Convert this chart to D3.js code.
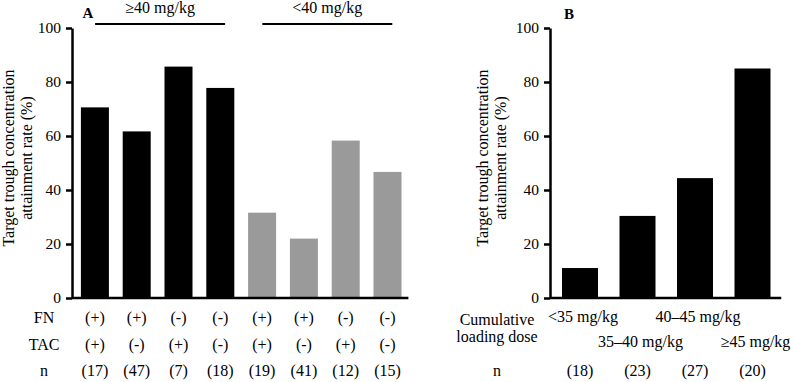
<!DOCTYPE html>
<html>
<head>
<meta charset="utf-8">
<style>
  body { margin: 0; background: #fff; }
  svg { display: block; }
  text { font-family: "Liberation Serif", "Times New Roman", serif; fill: #000; }
  .axis path, .axis line { stroke: #000; stroke-width: 2.5px; }
  .axis text { font-size: 15.5px; font-family: "Liberation Serif", serif; }
</style>
</head>
<body>
<svg width="794" height="382"></svg>
<script src="https://d3js.org/d3.v7.min.js"></script>
<script>

// panel A: attainment by FN / TAC status and loading dose group
var rateA = [70.6, 61.7, 85.7, 77.8, 31.6, 22.0, 58.3, 46.7];
var fnA   = ["(+)", "(+)", "(-)", "(-)", "(+)", "(+)", "(-)", "(-)"];
var tacA  = ["(+)", "(-)", "(+)", "(-)", "(+)", "(-)", "(+)", "(-)"];
var nA    = ["(17)", "(47)", "(7)", "(18)", "(19)", "(41)", "(12)", "(15)"];
var doseGroupA = ["≥40 mg/kg", "≥40 mg/kg", "≥40 mg/kg", "≥40 mg/kg",
                  "<40 mg/kg", "<40 mg/kg", "<40 mg/kg", "<40 mg/kg"];

// panel B: attainment by cumulative loading dose
var doseB = ["<35 mg/kg", "35–40 mg/kg", "40–45 mg/kg", "≥45 mg/kg"];
var rateB = [11.1, 30.4, 44.4, 85.0];
var nB    = ["(18)", "(23)", "(27)", "(20)"];

var yTicks = [0, 20, 40, 60, 80, 100];

var fs = "16px";

var svg = d3.select("svg");

var y = d3.scaleLinear().domain([0, 100]).range([298, 28]);

function yAxis(g, x0) {
  g.attr("class", "axis")
    .attr("transform", "translate(" + x0 + ",0)")
    .call(d3.axisLeft(y).tickValues(yTicks).tickSize(6).tickPadding(5).tickSizeOuter(0));
}

function yTitle(bx, lines) {
  var t = svg.append("text")
      .attr("transform", "translate(" + bx + ",158) rotate(-90)")
      .attr("text-anchor", "middle")
      .style("font-size", fs);
  lines.forEach(function(l, i) {
    t.append("tspan").attr("x", 0).attr("y", i * 18).text(l);
  });
}

// ---------- panel A ----------
var xA = d3.scaleBand()
    .domain(d3.range(rateA.length))
    .range([74, 408.4])
    .paddingInner(0.33)
    .paddingOuter(0.165);

var axA = 72;

svg.append("g").selectAll("rect")
  .data(rateA)
  .join("rect")
    .attr("x", function(d, i) { return xA(i); })
    .attr("y", function(d) { return y(d); })
    .attr("width", xA.bandwidth())
    .attr("height", function(d) { return y(0) - y(d); })
    .attr("fill", function(d, i) { return doseGroupA[i] === "≥40 mg/kg" ? "#000" : "#9a9a9a"; });

svg.append("line")
    .attr("x1", axA).attr("x2", xA.range()[1])
    .attr("y1", y(0)).attr("y2", y(0))
    .attr("stroke", "#000").attr("stroke-width", 2.5);

svg.append("g").call(yAxis, axA);

yTitle(14, ["Target trough concentration", "attainment rate (%)"]);

// dose group headers with lines
var groupsA = Array.from(new Set(doseGroupA));
groupsA.forEach(function(gname) {
  var idx = d3.range(doseGroupA.length).filter(function(i) { return doseGroupA[i] === gname; });
  var left = xA(idx[0]), right = xA(idx[idx.length - 1]) + xA.bandwidth();
  var cx = (left + right) / 2 + 2.5;
  svg.append("line")
      .attr("x1", cx - 65).attr("x2", cx + 65)
      .attr("y1", 24).attr("y2", 24)
      .attr("stroke", "#000").attr("stroke-width", 2);
  svg.append("text")
      .attr("x", cx).attr("y", 13)
      .attr("text-anchor", "middle")
      .style("font-size", fs)
      .text(gname);
});

svg.append("text").attr("x", 88).attr("y", 18)
    .attr("text-anchor", "middle")
    .style("font-size", "15px").style("font-weight", "bold")
    .text("A");

// table rows under panel A
var rowsA = [
  { label: "FN",  vals: fnA,  y: 323 },
  { label: "TAC", vals: tacA, y: 350 },
  { label: "n",   vals: nA,   y: 376 }
];
rowsA.forEach(function(r) {
  svg.append("text").attr("x", 44).attr("y", r.y)
      .attr("text-anchor", "middle").style("font-size", fs)
      .text(r.label);
  svg.append("g").selectAll("text")
    .data(r.vals)
    .join("text")
      .attr("x", function(d, i) { return xA(i) + xA.bandwidth() / 2; })
      .attr("y", r.y)
      .attr("text-anchor", "middle")
      .style("font-size", fs)
      .text(function(d) { return d; });
});

// ---------- panel B ----------
var xB = d3.scaleBand()
    .domain(d3.range(doseB.length))
    .range([551.25, 781.25])
    .paddingInner(0.374)
    .paddingOuter(0.187);

var axB = 550;

svg.append("g").selectAll("rect")
  .data(rateB)
  .join("rect")
    .attr("x", function(d, i) { return xB(i); })
    .attr("y", function(d) { return y(d); })
    .attr("width", xB.bandwidth())
    .attr("height", function(d) { return y(0) - y(d); })
    .attr("fill", "#000");

svg.append("line")
    .attr("x1", axB).attr("x2", xB.range()[1])
    .attr("y1", y(0)).attr("y2", y(0))
    .attr("stroke", "#000").attr("stroke-width", 2.5);

svg.append("g").call(yAxis, axB);

yTitle(488, ["Target trough concentration", "attainment rate (%)"]);

svg.append("text").attr("x", 569).attr("y", 19)
    .attr("text-anchor", "middle")
    .style("font-size", "15px").style("font-weight", "bold")
    .text("B");

svg.append("text").attr("x", 497).attr("y", 325)
    .attr("text-anchor", "middle").style("font-size", fs)
    .text("Cumulative");
svg.append("text").attr("x", 497).attr("y", 342)
    .attr("text-anchor", "middle").style("font-size", fs)
    .text("loading dose");

// dose labels alternate between two rows
svg.append("g").selectAll("text")
  .data(doseB)
  .join("text")
    .attr("x", function(d, i) { return xB(i) + xB.bandwidth() / 2 + 3; })
    .attr("y", function(d, i) { return i % 2 === 0 ? 322 : 347; })
    .attr("text-anchor", "middle")
    .style("font-size", fs)
    .text(function(d) { return d; });

svg.append("text").attr("x", 497).attr("y", 376)
    .attr("text-anchor", "middle").style("font-size", fs)
    .text("n");
svg.append("g").selectAll("text")
  .data(nB)
  .join("text")
    .attr("x", function(d, i) { return xB(i) + xB.bandwidth() / 2; })
    .attr("y", 376)
    .attr("text-anchor", "middle")
    .style("font-size", fs)
    .text(function(d) { return d; });

</script>
</body>
</html>
